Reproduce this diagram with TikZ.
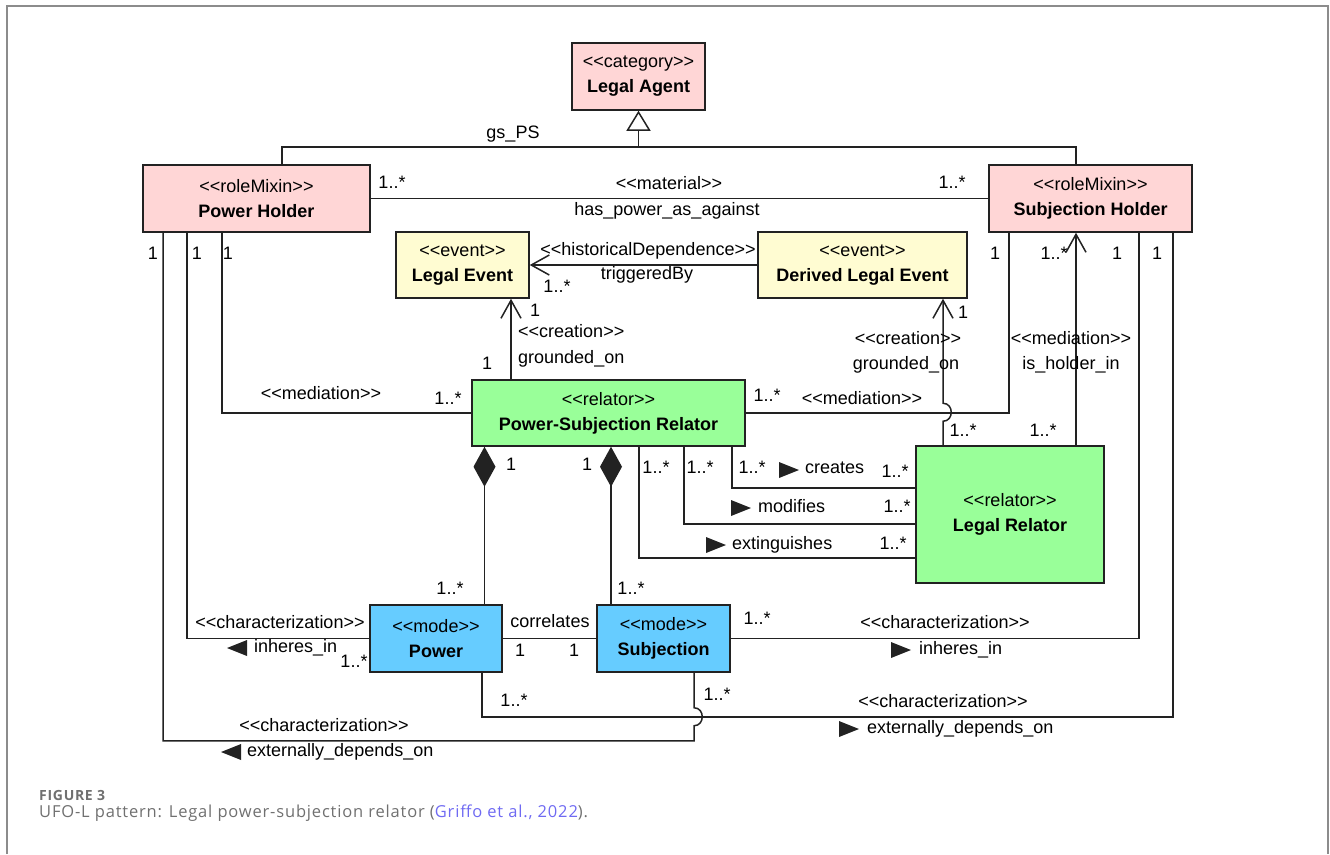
\documentclass[tikz,border=0pt]{standalone}
\usepackage{fontspec}
\setmainfont{Liberation Sans}
\newfontfamily\capfont[LetterSpace=5]{Open Sans}
\usetikzlibrary{arrows.meta,calc}
\definecolor{pinkbox}{HTML}{FFD6D6}
\definecolor{yelbox}{HTML}{FFFCD2}
\definecolor{grnbox}{HTML}{99FF99}
\definecolor{blubox}{HTML}{66CCFF}
\definecolor{ln}{HTML}{222222}
\definecolor{framegray}{HTML}{8C8C8C}
\definecolor{capgray}{HTML}{707070}
\definecolor{linkblue}{HTML}{6F6AF2}
\newcommand\stereo[1]{<\kern0pt<#1>\kern0pt>}
\begin{document}
\begin{tikzpicture}[x=1pt,y=-1pt,
  cls/.style={draw=ln, line width=1.5pt, inner sep=0pt, align=center, font=\fontsize{18}{25}\selectfont},
  lbl/.style={inner sep=0pt, font=\fontsize{18}{20}\selectfont, text height=13pt, text depth=4pt},
  conn/.style={draw=ln, line width=1.5pt},
  opn/.style={conn, -{Straight Barb[length=18pt,width=20pt]}},
  gen/.style={conn, -{Triangle[open,length=20pt,width=24pt]}},
  comp/.style={conn, {Diamond[length=40pt,width=22pt]}-},
  rtri/.pic={\fill[ln] (-10,-8) -- (10,0) -- (-10,8) -- cycle;},
  ltri/.pic={\fill[ln] (10,-8) -- (-10,0) -- (10,8) -- cycle;}
]
\useasboundingbox (0,0) rectangle (1330,854);
\draw[framegray, line width=2pt] (7,854) -- (7,6) -- (1328,6) -- (1328,854);

% classes
\node[cls, fill=pinkbox, minimum width=133pt, minimum height=67pt] (LA) at (638.5,76.5) {\stereo{category}\\\textbf{Legal Agent}};
\node[cls, fill=pinkbox, minimum width=227pt, minimum height=67pt] (PH) at (256.5,198.5) {\stereo{roleMixin}\\\textbf{Power Holder}};
\node[cls, fill=pinkbox, minimum width=203pt, minimum height=67pt] (SH) at (1090.5,198.5) {\stereo{roleMixin}\\\textbf{Subjection Holder}};
\node[cls, fill=yelbox, minimum width=133pt, minimum height=66pt] (LE) at (462.5,265) {\stereo{event}\\\textbf{Legal Event}};
\node[cls, fill=yelbox, minimum width=209pt, minimum height=66pt] (DLE) at (862.5,265) {\stereo{event}\\\textbf{Derived Legal Event}};
\node[cls, fill=grnbox, minimum width=273pt, minimum height=66pt] (PSR) at (608.5,413) {\stereo{relator}\\\textbf{Power-Subjection Relator}};
\node[cls, fill=grnbox, minimum width=188pt, minimum height=137pt] (LR) at (1010,514.5) {\stereo{relator}\\\textbf{Legal Relator}};
\node[cls, fill=blubox, minimum width=132pt, minimum height=67pt] (Power) at (436,638.5) {\stereo{mode}\\\textbf{Power}};
\node[cls, fill=blubox, minimum width=133pt, minimum height=67pt] (Subj) at (663.5,638.5) {\stereo{mode}\\\textbf{Subjection}};

% generalization
\coordinate (gj) at (638.5,147);
\draw[conn] ($(PH.north)+(25.5,0)$) |- (gj) -| ($(SH.north)+(-14.5,0)$);
\draw[gen] (gj) -- (LA.south);
\node[lbl] (tgs) at (513,134) {gs\_PS};

% material
\draw[conn] (PH.east) -- (SH.west);
\node[lbl] (m1) at (392,184) {1..*};
\node[lbl] (m2) at (952,184) {1..*};
\node[lbl] (m3) at (669,185) {\stereo{material}};
\node[lbl] (m4) at (667,211) {has\_power\_as\_against};

% historical dependence
\draw[opn] (DLE.west) -- (LE.east);
\node[lbl] (h1) at (648,251) {\stereo{historicalDependence}};
\node[lbl] (h2) at (647,275) {triggeredBy};
\node[lbl] (h3) at (557,288) {1..*};

% creation to Legal Event
\draw[opn] ($(PSR.north)+(-97.5,0)$) -- ($(LE.south)+(48.5,0)$);
\node[lbl] (c1) at (535,312) {1};
\node[lbl, anchor=west] (c2) at (518,333) {\stereo{creation}};
\node[lbl, anchor=west] (c3) at (518,359) {grounded\_on};
\node[lbl] (c4) at (487,365) {1};

% creation to Derived Legal Event (with jump)
\draw[opn] ($(LR.north)+(-67,0)$) -- ($(LR.north)+(-67,-24)$)
  .. controls ($(LR.north)+(-56,-24)$) and ($(LR.north)+(-56,-42)$) .. ($(LR.north)+(-67,-42)$)
  -- ($(DLE.south)+(80.5,0)$);
\node[lbl] (d1) at (963,314) {1};
\node[lbl] (d2) at (908,340) {\stereo{creation}};
\node[lbl] (d3) at (906,365) {grounded\_on};
\node[lbl] (d4) at (963,432) {1..*};

% is_holder_in
\draw[opn] ($(LR.north)+(66,0)$) -- ($(SH.south)+(-14.5,0)$);
\node[lbl] (i1) at (1071,340) {\stereo{mediation}};
\node[lbl] (i2) at (1071,365) {is\_holder\_in};
\node[lbl] (i3) at (1054,255) {1..*};
\node[lbl] (i4) at (1043,432) {1..*};

% mediations
\draw[conn] (PSR.west) -| ($(PH.south)+(-34.5,0)$);
\node[lbl] (ml1) at (321,395) {\stereo{mediation}};
\node[lbl] (ml2) at (448,400) {1..*};
\draw[conn] (PSR.east) -| ($(SH.south)+(-81.5,0)$);
\node[lbl] (mr1) at (767,397) {1..*};
\node[lbl] (mr2) at (862,400) {\stereo{mediation}};

% multiplicities under holders
\node[lbl] (p1) at (153,255) {1};
\node[lbl] (p2) at (197,255) {1};
\node[lbl] (p3) at (228,255) {1};
\node[lbl] (s1) at (995,255) {1};
\node[lbl] (s2) at (1117,255) {1};
\node[lbl] (s3) at (1157,255) {1};

% compositions
\draw[comp] ($(PSR.south)+(-124,0)$) -- ($(Power.north)+(48.5,0)$);
\node[lbl] (k1) at (511,466) {1};
\node[lbl] (k2) at (450,590) {1..*};
\draw[comp] ($(PSR.south)+(2.5,0)$) -- ($(Subj.north)+(-52.5,0)$);
\node[lbl] (k3) at (587,466) {1};
\node[lbl] (k4) at (631,590) {1..*};

% creates / modifies / extinguishes
\draw[conn] ($(PSR.south)+(123.5,0)$) |- ($(LR.west)+(0,-26.5)$);
\node[lbl] (r1) at (752,469) {1..*};
\pic at (789,470) {rtri};
\node[lbl, anchor=west] (r2) at (805,469) {creates};
\node[lbl] (r3) at (895,473) {1..*};
\draw[conn] ($(PSR.south)+(75.5,0)$) |- ($(LR.west)+(0,9.5)$);
\node[lbl] (r4) at (700,469) {1..*};
\pic at (741,508) {rtri};
\node[lbl, anchor=west] (r5) at (758,508) {modifies};
\node[lbl] (r6) at (897,508) {1..*};
\draw[conn] ($(PSR.south)+(30.5,0)$) |- ($(LR.west)+(0,43.5)$);
\node[lbl] (r7) at (656,469) {1..*};
\pic at (716,545) {rtri};
\node[lbl, anchor=west] (r8) at (732,545) {extinguishes};
\node[lbl] (r9) at (893,545) {1..*};

% power inheres_in
\draw[conn] (Power.west) -| ($(PH.south)+(-69.5,0)$);
\node[lbl] (a1) at (280,624) {\stereo{characterization}};
\pic at (237,648) {ltri};
\node[lbl, anchor=west] (a2) at (254,648) {inheres\_in};
\node[lbl] (a3) at (354,663) {1..*};

% correlates
\draw[conn] (Power.east) -- (Subj.west);
\node[lbl] (b1) at (550,623) {correlates};
\node[lbl] (b2) at (520,652) {1};
\node[lbl] (b3) at (574,652) {1};

% subjection inheres_in
\draw[conn] (Subj.east) -| ($(SH.south)+(48.5,0)$);
\node[lbl] (e1) at (757,620) {1..*};
\node[lbl] (e2) at (945,624) {\stereo{characterization}};
\pic at (901,650) {rtri};
\node[lbl, anchor=west] (e3) at (919,650) {inheres\_in};

% power externally depends on
\draw[conn] ($(Power.south)+(46,0)$) -- ($(Power.south)+(46,44)$) -| ($(SH.south)+(82.5,0)$);
\node[lbl] (f1) at (514,702) {1..*};
\node[lbl] (f2) at (943,703) {\stereo{characterization}};
\pic at (849,729) {rtri};
\node[lbl, anchor=west] (f3) at (867,729) {externally\_depends\_on};

% subjection externally depends on (with jump)
\draw[conn] ($(Subj.south)+(30.5,0)$) -- ($(Subj.south)+(30.5,35)$)
  .. controls ($(Subj.south)+(41.5,35)$) and ($(Subj.south)+(41.5,53)$) .. ($(Subj.south)+(30.5,53)$)
  -- ($(Subj.south)+(30.5,68)$) -| ($(PH.south)+(-93.5,0)$);
\node[lbl] (g1) at (717,696) {1..*};
\node[lbl] (g2) at (324,727) {\stereo{characterization}};
\pic at (231,752) {ltri};
\node[lbl, anchor=west] (g3) at (247,752) {externally\_depends\_on};

% caption
\node[anchor=west, inner sep=0pt, text=capgray, font=\capfont\bfseries\fontsize{14}{16}\selectfont] (cap1) at (39,795) {FIGURE 3};
\node[anchor=west, inner sep=0pt, text=capgray, font=\capfont\fontsize{16.5}{19}\selectfont] (cap2) at (39,813) {UFO-L pattern: Legal power-subjection relator (\textcolor{linkblue}{Griffo et al., 2022}).};
\end{tikzpicture}
\end{document}
